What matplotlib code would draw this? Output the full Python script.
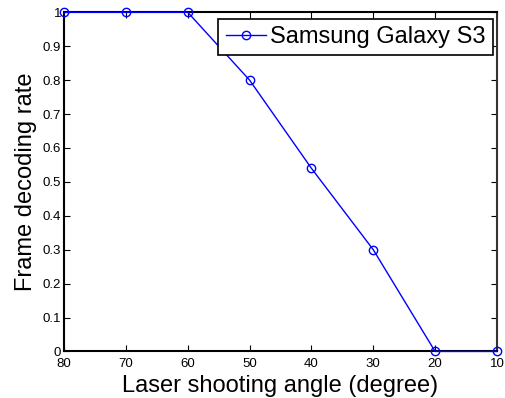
import numpy as np
import matplotlib
matplotlib.use("Agg")
import matplotlib.pyplot as plt

plt.rcParams['font.family'] = ['Liberation Sans', 'DejaVu Sans']

# data
angles = [80, 70, 60, 50, 40, 30, 20, 10]
rate = [1.0, 1.0, 1.0, 0.8, 0.54, 0.3, 0.0, 0.0]
x_ticks = [80, 70, 60, 50, 40, 30, 20, 10]
y_ticks = [0, 0.1, 0.2, 0.3, 0.4, 0.5, 0.6, 0.7, 0.8, 0.9, 1]
y_labels = ['0', '0.1', '0.2', '0.3', '0.4', '0.5', '0.6', '0.7', '0.8', '0.9', '1']

fig = plt.figure(figsize=(5.05, 3.98), dpi=100)
ax = fig.add_axes([0.127, 0.117, 0.857, 0.852])

ax.plot(angles, rate, color='blue', linewidth=1.0, marker='o',
        markersize=6, markerfacecolor='none', markeredgecolor='blue',
        markeredgewidth=1.0, label='Samsung Galaxy S3', clip_on=False, zorder=5)

ax.set_xlim(80, 10)
ax.set_ylim(0, 1)
ax.set_xticks(x_ticks)
ax.set_yticks(y_ticks)
ax.set_yticklabels(y_labels)
ax.tick_params(direction='in', top=True, right=True, length=4, width=0.8,
               labelsize=9.5)
ax.tick_params(axis='x', pad=5)
ax.tick_params(axis='y', pad=2)

for s in ax.spines.values():
    s.set_linewidth(1.5)
ax.spines['right'].set_color('#333333')

ax.set_xlabel('Laser shooting angle (degree)', fontsize=17, labelpad=3)
ax.set_ylabel('Frame decoding rate', fontsize=17, labelpad=4)

leg = ax.legend(loc='upper right', bbox_to_anchor=(493 / 505, 1 - 19 / 398),
                bbox_transform=fig.transFigure, borderaxespad=0,
                fontsize=17, fancybox=False, framealpha=1,
                edgecolor='black', borderpad=0.3, handlelength=1.7,
                handletextpad=0.2)
leg.get_frame().set_linewidth(1.2)

fig.savefig('out.png', dpi=100)
